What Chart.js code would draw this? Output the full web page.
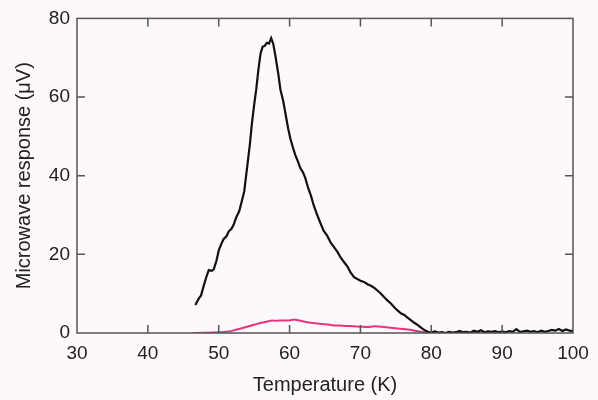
<!DOCTYPE html>
<html lang="en">
<head>
    <meta charset="UTF-8">
    <title>Microwave response vs temperature</title>
    <style>
        * { margin: 0; padding: 0; box-sizing: border-box; }
        body { background: #fcf8fc; }
        .wrap { width: 598px; height: 400px; }
    </style>
    <script src="https://cdn.jsdelivr.net/npm/chart.js"></script>
</head>
<body>
    <div class="wrap"><canvas id="chart" width="598" height="400"></canvas></div>

    <script>
        // Black trace (large response)
        const tempBlack = [
            46.7, 47.2, 47.5, 47.9, 48.3, 48.6, 49.0, 49.3, 49.7, 50.0,
            50.4, 50.7, 51.1, 51.4, 51.8, 52.1, 52.5, 52.9, 53.3, 53.6,
            54.0, 54.4, 54.7, 55.0, 55.3, 55.6, 55.9, 56.2, 56.5, 56.8,
            57.1, 57.4, 57.7, 58.0, 58.4, 58.7, 59.1, 59.4, 59.8, 60.1,
            60.5, 60.8, 61.2, 61.5, 61.9, 62.2, 62.6, 63.0, 63.4, 63.9,
            64.3, 64.8, 65.3, 65.8, 66.3, 66.8, 67.2, 67.7, 68.2, 68.6,
            69.1, 69.5, 70.0, 70.5, 71.0, 71.5, 72.0, 72.4, 72.9, 73.4,
            73.8, 74.3, 74.8, 75.2, 75.7, 76.2, 76.6, 77.1, 77.6, 78.1,
            78.6, 79.0, 79.5, 80.0, 80.5, 81.0, 81.5, 82.0, 82.5, 83.0,
            83.5, 84.0, 84.5, 85.0, 85.5, 86.0, 86.5, 87.0, 87.5, 88.0,
            88.5, 89.0, 89.5, 90.0, 90.5, 91.0, 91.5, 92.0, 92.5, 93.0,
            93.5, 94.0, 94.5, 95.0, 95.5, 96.0, 96.5, 97.0, 97.5, 98.0,
            98.5, 99.0, 99.5, 100.0
        ];
        const respBlack = [
            7.1, 8.8, 9.5, 12.1, 14.5, 16.0, 15.8, 16.2, 18.5, 21.0,
            22.8, 23.9, 24.6, 25.8, 26.5, 27.5, 29.5, 31.0, 33.8, 36.0,
            42.0, 48.0, 53.5, 58.0, 62.0, 67.0, 71.0, 72.8, 73.0, 73.8,
            73.6, 75.0, 73.5, 70.5, 66.0, 62.0, 59.0, 56.0, 52.0, 49.5,
            47.0, 45.3, 43.5, 42.0, 40.8, 39.5, 37.0, 35.0, 32.5, 30.0,
            28.2, 26.0, 24.8, 23.0, 21.8, 20.5, 19.2, 18.0, 16.8, 15.4,
            14.2, 13.8, 13.3, 13.0, 12.4, 12.0, 11.4, 10.8, 10.0, 9.0,
            8.3, 7.5, 6.5, 5.8, 5.0, 4.6, 4.0, 3.3, 2.6, 2.0,
            1.3, 0.8, 0.3, 0.1, 0.4, 0.1, 0.2, 0.0, 0.3, 0.1,
            0.2, 0.5, 0.2, 0.3, 0.1, 0.6, 0.3, 0.7, 0.2, 0.4,
            0.3, 0.5, 0.2, 0.4, 0.2, 0.5, 0.3, 1.0, 0.3, 0.4,
            0.6, 0.3, 0.5, 0.2, 0.6, 0.3, 0.5, 0.8, 0.6, 1.0,
            0.5, 0.9, 0.6, 0.5
        ];

        // Pink trace (small response)
        const tempPink = [
            46.3, 48.0, 50.0, 51.0, 52.0, 53.0, 54.0, 55.0, 56.0, 57.0,
            57.5, 58.0, 59.0, 60.0, 60.5, 61.0, 62.0, 63.0, 64.0, 65.0,
            66.0, 67.0, 68.0, 69.0, 70.0, 71.0, 72.0, 73.0, 74.0, 75.0,
            76.0, 77.0, 78.0, 79.0, 80.0, 82.0, 85.0, 90.3
        ];
        const respPink = [
            0.0, 0.05, 0.2, 0.3, 0.6, 1.1, 1.6, 2.1, 2.6, 3.0,
            3.2, 3.1, 3.2, 3.2, 3.4, 3.3, 2.9, 2.6, 2.4, 2.2,
            2.0, 1.9, 1.8, 1.7, 1.6, 1.5, 1.7, 1.6, 1.4, 1.2,
            1.0, 0.8, 0.5, 0.2, 0.05, 0.0, 0.0, 0.0
        ];

        const xTicks = [30, 40, 50, 60, 70, 80, 90, 100];
        const yTicks = [0, 20, 40, 60, 80];

        const toXY = (xs, ys) => xs.map((x, i) => ({ x: x, y: ys[i] }));

        // page background + frame with inward ticks on all four sides
        const framePlugin = {
            id: 'frame',
            beforeDraw(chart) {
                const ctx = chart.ctx;
                ctx.save();
                ctx.fillStyle = '#fcf8fc';
                ctx.fillRect(0, 0, chart.width, chart.height);
                ctx.restore();
            },
            afterDraw(chart) {
                const { ctx, chartArea: a, scales } = chart;
                const len = 8;
                ctx.save();
                ctx.strokeStyle = '#555';
                ctx.lineWidth = 1.5;
                ctx.strokeRect(a.left, a.top, a.right - a.left, a.bottom - a.top);
                ctx.beginPath();
                xTicks.slice(1, -1).forEach(v => {
                    const px = scales.x.getPixelForValue(v);
                    ctx.moveTo(px, a.bottom); ctx.lineTo(px, a.bottom - len);
                    ctx.moveTo(px, a.top); ctx.lineTo(px, a.top + len);
                });
                yTicks.slice(1, -1).forEach(v => {
                    const py = scales.y.getPixelForValue(v);
                    ctx.moveTo(a.left, py); ctx.lineTo(a.left + len, py);
                    ctx.moveTo(a.right, py); ctx.lineTo(a.right - len, py);
                });
                ctx.stroke();
                ctx.restore();
            }
        };

        const tickFont = { family: "'Liberation Sans', Arial, sans-serif", size: 19 };
        const titleFont = { family: "'Liberation Sans', Arial, sans-serif", size: 20 };

        new Chart(document.getElementById('chart'), {
            type: 'line',
            data: {
                datasets: [{
                    label: 'black',
                    data: toXY(tempBlack, respBlack),
                    borderColor: '#111',
                    borderWidth: 2.2,
                    pointRadius: 0,
                    tension: 0,
                    order: 1
                }, {
                    label: 'pink',
                    data: toXY(tempPink, respPink),
                    borderColor: '#e8347c',
                    borderWidth: 2,
                    pointRadius: 0,
                    tension: 0.3,
                    order: 2
                }]
            },
            options: {
                responsive: false,
                animation: false,
                layout: { padding: { left: 0, top: 16, right: 25, bottom: 0 } },
                plugins: {
                    legend: { display: false },
                    tooltip: { enabled: false }
                },
                scales: {
                    x: {
                        type: 'linear',
                        min: 30, max: 100,
                        afterBuildTicks: s => { s.ticks = xTicks.map(v => ({ value: v })); },
                        afterFit: s => { s.height = 67; },
                        grid: { display: false, drawTicks: false },
                        border: { display: false },
                        ticks: { color: '#222', font: tickFont, padding: 9, maxRotation: 0 },
                        title: {
                            display: true, text: 'Temperature (K)', color: '#222',
                            font: titleFont, padding: { top: 0, bottom: 3 }
                        }
                    },
                    y: {
                        min: 0, max: 80,
                        afterBuildTicks: s => { s.ticks = yTicks.map(v => ({ value: v })); },
                        afterFit: s => { s.width = 77; },
                        grid: { display: false, drawTicks: false },
                        border: { display: false },
                        ticks: { color: '#222', font: tickFont, padding: 7 },
                        title: {
                            display: true, text: 'Microwave response (μV)', color: '#222',
                            font: titleFont, padding: { top: 12, bottom: 0 }
                        }
                    }
                }
            },
            plugins: [framePlugin]
        });
    </script>
</body>
</html>
